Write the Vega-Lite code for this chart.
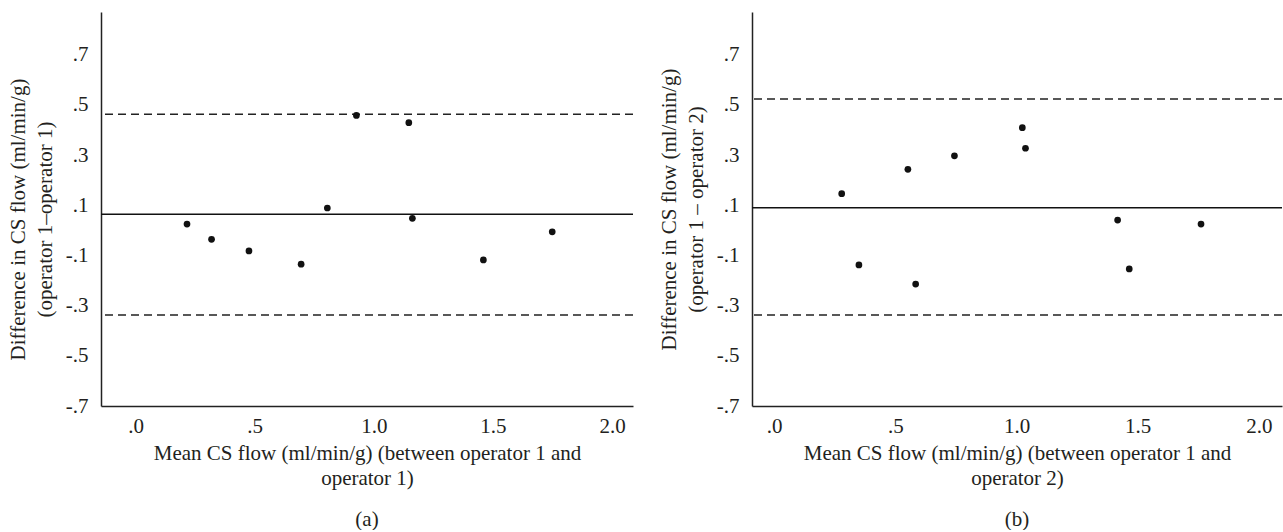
{
  "$schema": "https://vega.github.io/schema/vega-lite/v6.json",
  "padding": {"left": 7, "top": 12, "right": 0, "bottom": 0},
  "spacing": 24,
  "background": "white",
  "datasets": {
    "ptsA": [
      {"mean": 0.216, "diff": 0.025},
      {"mean": 0.319, "diff": -0.036},
      {"mean": 0.476, "diff": -0.082},
      {"mean": 0.695, "diff": -0.135},
      {"mean": 0.805, "diff": 0.089},
      {"mean": 0.927, "diff": 0.458},
      {"mean": 1.147, "diff": 0.429},
      {"mean": 1.162, "diff": 0.048},
      {"mean": 1.460, "diff": -0.118},
      {"mean": 1.749, "diff": -0.006}
    ],
    "ptsB": [
      {"mean": 0.279, "diff": 0.146},
      {"mean": 0.350, "diff": -0.138},
      {"mean": 0.552, "diff": 0.243},
      {"mean": 0.584, "diff": -0.214},
      {"mean": 0.744, "diff": 0.297},
      {"mean": 1.024, "diff": 0.409},
      {"mean": 1.037, "diff": 0.327},
      {"mean": 1.417, "diff": 0.041},
      {"mean": 1.465, "diff": -0.154},
      {"mean": 1.761, "diff": 0.025}
    ],
    "linesA": [
      {"kind": "limit", "value": 0.463},
      {"kind": "limit", "value": -0.337},
      {"kind": "mean", "value": 0.064}
    ],
    "linesB": [
      {"kind": "limit", "value": 0.523},
      {"kind": "limit", "value": -0.337},
      {"kind": "mean", "value": 0.090}
    ]
  },
  "hconcat": [
    {
      "width": 532,
      "height": 394,
      "title": {"text": "(a)", "orient": "bottom", "offset": 21},
      "layer": [
        {
          "data": {"name": "linesA"},
          "transform": [{"filter": "datum.kind == 'limit'"}],
          "mark": {"type": "rule", "color": "#222222", "strokeWidth": 1.5, "strokeDash": [8, 5]},
          "encoding": {"y": {"field": "value", "type": "quantitative", "scale": {"domain": [-0.7, 0.87], "nice": false, "zero": false}}}
        },
        {
          "data": {"name": "linesA"},
          "transform": [{"filter": "datum.kind == 'mean'"}],
          "mark": {"type": "rule", "color": "#111111", "strokeWidth": 1.5},
          "encoding": {"y": {"field": "value", "type": "quantitative"}}
        },
        {
          "data": {"name": "ptsA"},
          "mark": {"type": "circle", "color": "#111111", "opacity": 1, "size": 45},
          "encoding": {
            "x": {
              "field": "mean", "type": "quantitative",
              "scale": {"domain": [-0.145, 2.088], "nice": false, "zero": false},
              "axis": {
                "values": [0, 0.5, 1, 1.5, 2],
                "title": ["Mean CS flow (ml/min/g) (between operator 1 and", "operator 1)"],
                "labelExpr": "datum.value == 0 ? '.0' : (abs(datum.value) < 1 ? (datum.value < 0 ? '-' : '') + substring(format(abs(datum.value), '.1f'), 1) : format(datum.value, '.1f'))"
              }
            },
            "y": {
              "field": "diff", "type": "quantitative",
              "axis": {
                "values": [-0.7, -0.5, -0.3, -0.1, 0.1, 0.3, 0.5, 0.7],
                "title": ["Difference in CS flow (ml/min/g)", "(operator 1–operator 1)"],
                "titleY": 207,
                "labelExpr": "datum.value == 0 ? '.0' : (abs(datum.value) < 1 ? (datum.value < 0 ? '-' : '') + substring(format(abs(datum.value), '.1f'), 1) : format(datum.value, '.1f'))"
              }
            }
          }
        }
      ]
    },
    {
      "width": 530,
      "height": 394,
      "title": {"text": "(b)", "orient": "bottom", "offset": 21},
      "layer": [
        {
          "data": {"name": "linesB"},
          "transform": [{"filter": "datum.kind == 'limit'"}],
          "mark": {"type": "rule", "color": "#222222", "strokeWidth": 1.5, "strokeDash": [8, 5]},
          "encoding": {"y": {"field": "value", "type": "quantitative", "scale": {"domain": [-0.7, 0.87], "nice": false, "zero": false}}}
        },
        {
          "data": {"name": "linesB"},
          "transform": [{"filter": "datum.kind == 'mean'"}],
          "mark": {"type": "rule", "color": "#111111", "strokeWidth": 1.5},
          "encoding": {"y": {"field": "value", "type": "quantitative"}}
        },
        {
          "data": {"name": "ptsB"},
          "mark": {"type": "circle", "color": "#111111", "opacity": 1, "size": 45},
          "encoding": {
            "x": {
              "field": "mean", "type": "quantitative",
              "scale": {"domain": [-0.091, 2.095], "nice": false, "zero": false},
              "axis": {
                "values": [0, 0.5, 1, 1.5, 2],
                "title": ["Mean CS flow (ml/min/g) (between operator 1 and", "operator 2)"],
                "labelExpr": "datum.value == 0 ? '.0' : (abs(datum.value) < 1 ? (datum.value < 0 ? '-' : '') + substring(format(abs(datum.value), '.1f'), 1) : format(datum.value, '.1f'))"
              }
            },
            "y": {
              "field": "diff", "type": "quantitative",
              "axis": {
                "values": [-0.7, -0.5, -0.3, -0.1, 0.1, 0.3, 0.5, 0.7],
                "title": ["Difference in CS flow (ml/min/g)", "(operator 1 – operator 2)"],
                "labelExpr": "datum.value == 0 ? '.0' : (abs(datum.value) < 1 ? (datum.value < 0 ? '-' : '') + substring(format(abs(datum.value), '.1f'), 1) : format(datum.value, '.1f'))"
              }
            }
          }
        }
      ]
    }
  ],
  "config": {
    "view": {"stroke": null},
    "font": "Liberation Serif",
    "axis": {
      "grid": false,
      "ticks": false,
      "domainColor": "#222222",
      "domainWidth": 1.5,
      "labelFont": "Liberation Serif",
      "labelFontSize": 21,
      "labelColor": "#231f20",
      "titleFont": "Liberation Serif",
      "titleFontSize": 21,
      "titleFontWeight": "normal",
      "titleColor": "#231f20",
      "titleLineHeight": 25
    },
    "axisY": {"labelPadding": 13, "titlePadding": 10, "titleLineHeight": 27},
    "axisX": {"labelPadding": 9, "titlePadding": 6, "labelFlush": false},
    "title": {"font": "Liberation Serif", "fontSize": 21, "fontWeight": "normal", "color": "#231f20"}
  }
}
